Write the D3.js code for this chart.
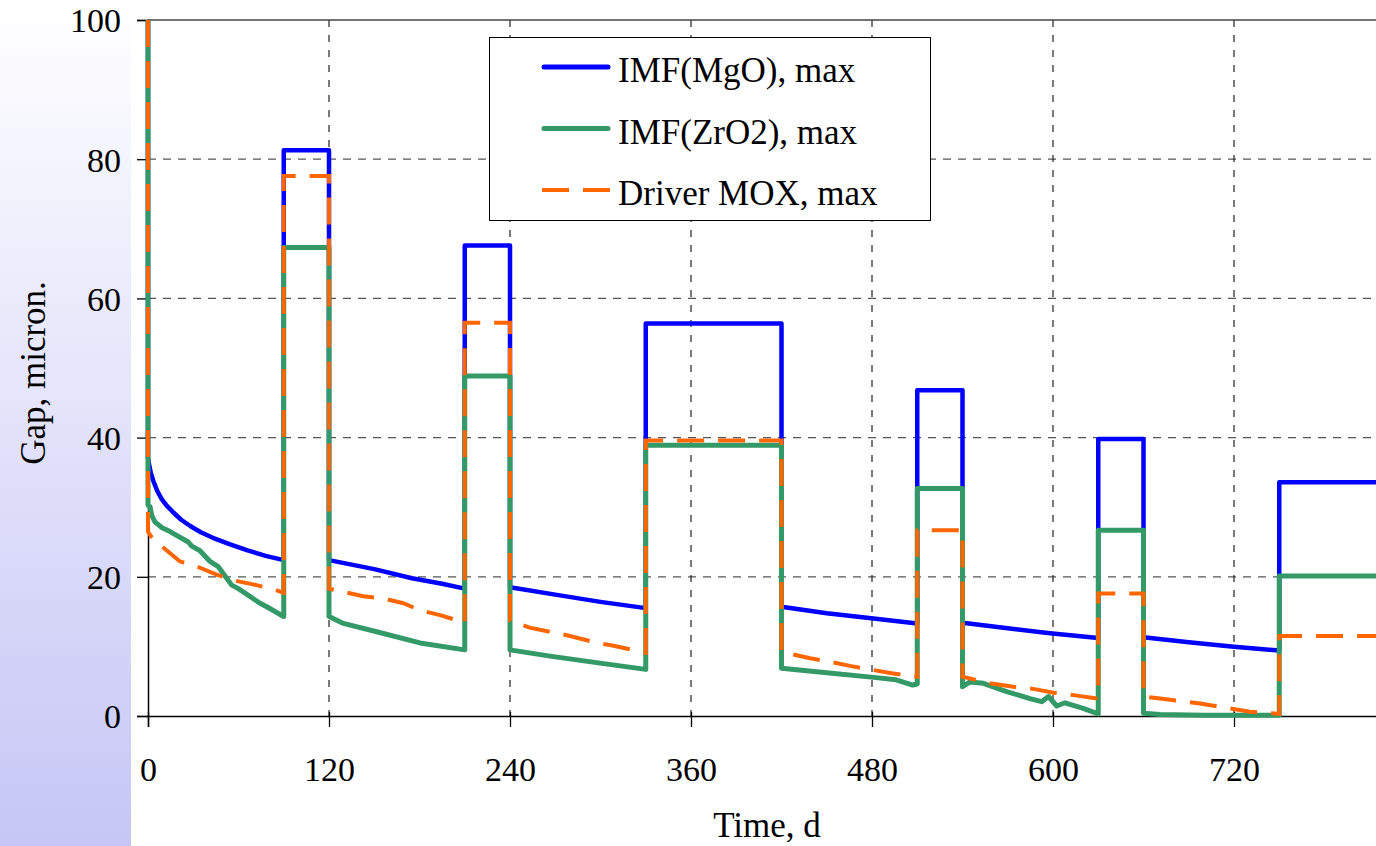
<!DOCTYPE html>
<html>
<head>
<meta charset="utf-8">
<script src="https://cdn.jsdelivr.net/npm/d3@7"></script>
<style>
  body { margin: 0; background: #fff; }
  svg { display: block; font-family: "Liberation Serif", "Times New Roman", serif; }
</style>
</head>
<body>
<div id="chart"></div>
<script>
// Datos: [tiempo (d), gap (micron)]
var imfMgO = [[0,100],[0,37.1],[1,35.8],[2,34.8],[3.5,33.8],[6,32.4],[9,31.2],[12.5,30.2],[17,29.2],[22,28.2],
  [28,27.3],[35,26.4],[43,25.6],[54,24.7],[66,23.8],[78,23.0],[90,22.4],[90,81.3],[120,81.3],[120,22.4],[150,21.1],
  [175,19.8],[195,19.0],[210,18.3],[210,67.6],[240,67.6],[240,18.5],[271,17.4],[300,16.4],[330,15.5],[330,56.4],
  [420,56.4],[420,15.7],[450,14.75],[481,14.0],[510,13.3],[510,46.8],[540,46.8],[540,13.4],[570,12.6],[598,11.9],
  [630,11.2],[630,39.8],[660,39.8],[660,11.3],[690,10.6],[720,9.95],[750,9.4],[750,33.6],[840,33.6]];

var imfZrO2 = [[0,100],[0,30.3],[1.3,30.1],[2.5,28.8],[4.6,27.9],[9,27.1],[14.6,26.5],[26.7,25.0],[29,24.4],[34.5,23.75],
  [41.1,22.2],[46.6,21.45],[55.5,18.8],[59.9,18.3],[74.3,16.2],[78.7,15.7],[90,14.3],[90,67.3],[120,67.3],[120,14.3],
  [129.5,13.3],[151.6,12.1],[180.3,10.5],[210,9.5],[210,48.85],[240,48.85],[240,9.5],[266.5,8.6],[299.7,7.6],[330,6.7],
  [330,38.9],[420,38.9],[420,6.85],[450,6.2],[481,5.55],[496,5.2],[507,4.45],[510,4.6],[510,32.7],[540,32.7],[540,4.2],
  [545,4.9],[553.8,4.7],[569.3,3.5],[584.8,2.5],[592.5,2.06],[597,2.8],[602.5,1.44],[608,1.9],[620,1.1],[630,0.3],
  [630,26.7],[660,26.7],[660,0.4],[671,0.2],[700,0.1],[750,0.1],[750,20.1],[840,20.1]];

var driverMOX = [[0,100],[0,26.5],[2,25.8],[9,24.4],[21.2,22.2],[30,21.7],[45.5,20.3],[56.6,19.5],[72,18.8],[83,18.2],
  [90,17.7],[90,77.6],[120,77.6],[120,18.3],[142.7,17.2],[156,16.9],[169.3,16.2],[180.3,15.2],[193.6,14.5],[210,13.4],
  [210,56.5],[240,56.5],[240,13.7],[253,12.7],[266.5,12.1],[279.8,11.5],[299.7,10.4],[306.3,10.2],[330,9.1],[330,39.6],
  [420,39.6],[420,9.2],[439,8.3],[454.4,7.7],[465.4,7.2],[481,6.6],[494,6.1],[510,5.65],[510,26.7],[540,26.7],
  [540,5.65],[558,4.7],[573.7,4.2],[587,3.9],[600.3,3.35],[613.5,3.0],[630,2.5],[630,17.6],[660,17.6],[660,2.8],
  [671,2.5],[697.5,1.8],[713,1.25],[730.6,0.6],[750,0.3],[750,11.5],[840,11.5]];

var seriesNames = ["IMF(MgO), max", "IMF(ZrO2), max", "Driver MOX, max"];
var xTicks = [0, 120, 240, 360, 480, 600, 720];
var yTicks = [0, 20, 40, 60, 80, 100];

var width = 1376, height = 846;
var margin = { top: 20, left: 148, bottom: 130 };

var svg = d3.select("#chart").append("svg")
    .attr("width", width)
    .attr("height", height);

// fondo degradado a la izquierda
var grad = svg.append("defs").append("linearGradient")
    .attr("id", "bg").attr("x1", 0).attr("y1", 0).attr("x2", 0).attr("y2", 1);
grad.append("stop").attr("offset", "0%").attr("stop-color", "#ffffff");
grad.append("stop").attr("offset", "100%").attr("stop-color", "#c6c6f6");
svg.append("rect").attr("x", 0).attr("y", 0).attr("width", 131).attr("height", height).attr("fill", "url(#bg)");

var x = d3.scaleLinear().domain([0, 840]).range([margin.left, margin.left + 7 * 181]);
var y = d3.scaleLinear().domain([0, 100]).range([height - margin.bottom, margin.top]);

// rejilla
svg.append("g").selectAll("line").data(yTicks.filter(function(d) { return d > 0 && d < 100; }))
  .join("line")
    .attr("x1", x(0)).attr("x2", x(840))
    .attr("y1", function(d) { return y(d); }).attr("y2", function(d) { return y(d); })
    .attr("stroke", "#555").attr("stroke-width", 1.2).attr("stroke-dasharray", "8,7");

svg.append("g").selectAll("line").data(xTicks.filter(function(d) { return d > 0; }))
  .join("line")
    .attr("x1", function(d) { return x(d); }).attr("x2", function(d) { return x(d); })
    .attr("y1", y(100)).attr("y2", y(0))
    .attr("stroke", "#222").attr("stroke-width", 1.2).attr("stroke-dasharray", "7,8");

svg.append("line")
    .attr("x1", x(0)).attr("x2", x(840)).attr("y1", y(100)).attr("y2", y(100))
    .attr("stroke", "#444").attr("stroke-width", 1.5);

// ejes
var xAxis = svg.append("g")
    .attr("transform", "translate(0," + y(0) + ")")
    .call(d3.axisBottom(x).tickValues(xTicks).tickFormat(d3.format("d")).tickSizeOuter(0).tickSize(11).tickPadding(30));

var yAxis = svg.append("g")
    .attr("transform", "translate(" + x(0) + ",0)")
    .call(d3.axisLeft(y).tickValues(yTicks).tickSizeOuter(0).tickSize(11).tickPadding(16));

[xAxis, yAxis].forEach(function(a) {
  a.select(".domain").attr("stroke", "#000").attr("stroke-width", 1.5);
  a.selectAll(".tick line").attr("stroke", "#000").attr("stroke-width", 1.3);
  a.selectAll("text").attr("font-family", "Liberation Serif, serif").attr("font-size", 34).attr("fill", "#000");
});
yAxis.selectAll("text").attr("dy", "0.35em");
xAxis.selectAll(".tick").append("line").attr("y1", -4).attr("y2", 0).attr("stroke", "#000").attr("stroke-width", 1.3);

// líneas
var line = d3.line()
    .x(function(d) { return x(d[0]); })
    .y(function(d) { return y(d[1]); });

svg.append("path").datum(imfMgO)
    .attr("fill", "none").attr("stroke", "#0000ff").attr("stroke-width", 4.5)
    .attr("stroke-linejoin", "round").attr("d", line);

svg.append("path").datum(imfZrO2)
    .attr("fill", "none").attr("stroke", "#339966").attr("stroke-width", 5)
    .attr("stroke-linejoin", "round").attr("d", line);

svg.append("path").datum(driverMOX)
    .attr("fill", "none").attr("stroke", "#ff6600").attr("stroke-width", 4)
    .attr("stroke-dasharray", "27,14").attr("d", line);

// leyenda
var legend = svg.append("g");
legend.append("rect")
    .attr("x", 489.5).attr("y", 37.5).attr("width", 441).attr("height", 183)
    .attr("fill", "#fff").attr("stroke", "#000").attr("stroke-width", 1);

var legColors = ["#0000ff", "#339966", "#ff6600"];
var legWidths = [5, 5, 4];
var legDash = [null, null, "27,14"];
seriesNames.forEach(function(name, i) {
  var ly = 67 + i * 61.5;
  legend.append("line")
      .attr("x1", i < 2 ? 544 : 542).attr("x2", i < 2 ? 608 : 610).attr("y1", ly).attr("y2", ly)
      .attr("stroke", legColors[i]).attr("stroke-width", legWidths[i])
      .attr("stroke-linecap", i < 2 ? "round" : "butt")
      .attr("stroke-dasharray", legDash[i]);
  legend.append("text")
      .attr("x", 618).attr("y", ly + 15)
      .attr("font-size", 35).attr("fill", "#000")
      .text(name);
});

// títulos de ejes
svg.append("text")
    .attr("x", 767).attr("y", 837)
    .attr("text-anchor", "middle").attr("font-size", 35)
    .text("Time, d");

svg.append("text")
    .attr("transform", "translate(45,373) rotate(-90)")
    .attr("text-anchor", "middle").attr("font-size", 35)
    .text("Gap, micron.");
</script>
</body>
</html>
